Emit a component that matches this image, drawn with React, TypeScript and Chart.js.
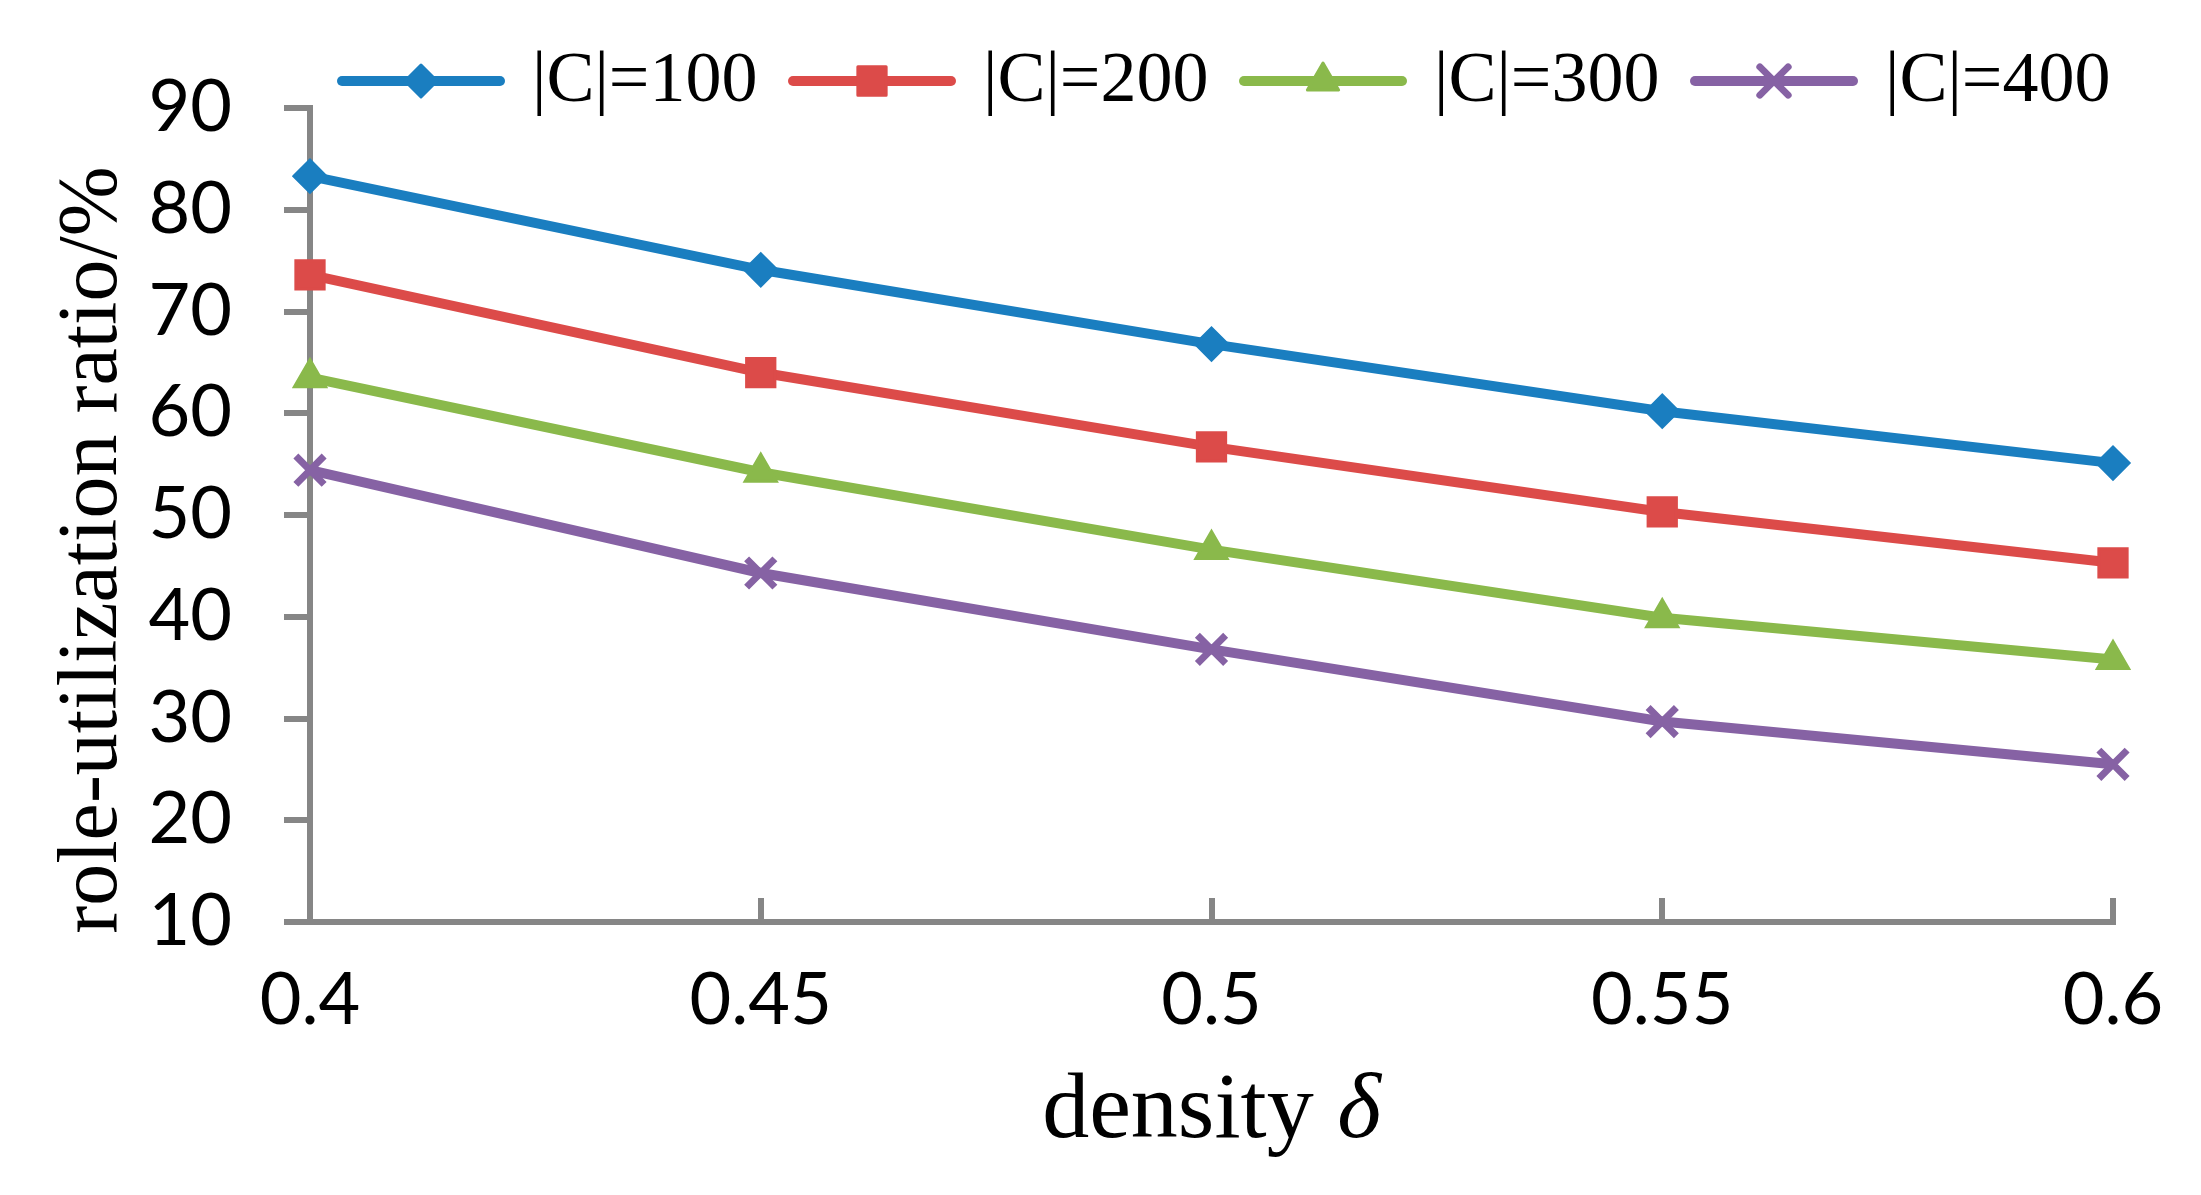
import { useEffect, useRef } from "react";
import { Chart, ChartConfiguration, Plugin, registerables } from "chart.js";
import { drawPoint } from "chart.js/helpers";

Chart.register(...registerables);

// data
const densities = ["0.4", "0.45", "0.5", "0.55", "0.6"];
const c100 = [83.3, 74.1, 66.8, 60.2, 55.1];
const c200 = [73.6, 64.0, 56.7, 50.3, 45.3];
const c300 = [63.5, 54.2, 46.6, 39.9, 35.8];
const c400 = [54.4, 44.3, 36.8, 29.7, 25.5];
const seriesNames = ["|C|=100", "|C|=200", "|C|=300", "|C|=400"];
const yMin = 10;
const yMax = 90;
const yStep = 10;
const xTitleText = "density ";
const xTitleSymbol = "δ";
const yTitleText = "role-utilization ratio/%";

const colors = ["#1A7EC0", "#DC4B49", "#8AB94B", "#8662A4"];
const markers = ["rectRot", "rect", "triangle", "crossRot"];
const markerSizes = [16, 20, 18, 20];
const axisGray = "#868686";
const serif = '"Liberation Serif", "Times New Roman", serif';
const sans = 'Lato, "Noto Sans", sans-serif';

// legend: line sample with marker in the middle, then the label
const lineLegend: Plugin<"line"> = {
  id: "lineLegend",
  afterDraw(chart) {
    const ctx = chart.ctx;
    ctx.save();
    let x = 337;
    const y = 81;
    chart.data.datasets.forEach((ds: any) => {
      ctx.strokeStyle = ds.borderColor;
      ctx.lineWidth = ds.borderWidth;
      ctx.lineCap = "round";
      ctx.beginPath();
      ctx.moveTo(x + 5, y);
      ctx.lineTo(x + 163, y);
      ctx.stroke();
      ctx.fillStyle = ds.pointBackgroundColor;
      ctx.strokeStyle = ds.pointBorderColor;
      ctx.lineWidth = ds.pointBorderWidth;
      ctx.lineJoin = "round";
      drawPoint(
        ctx,
        {
          pointStyle: ds.pointStyle,
          radius: ds.pointRadius,
          rotation: 0,
          borderWidth: ds.pointBorderWidth,
        } as any,
        x + 84,
        y
      );
      ctx.font = `72px ${serif}`;
      ctx.fillStyle = "#000";
      ctx.textAlign = "left";
      ctx.textBaseline = "alphabetic";
      ctx.fillText(ds.label, x + 195, 101);
      x += 451;
    });
    ctx.restore();
  },
};

// axis titles (x has an italic delta, y sits a bit below the plot centre)
const axisTitles: Plugin<"line"> = {
  id: "axisTitles",
  afterDraw(chart) {
    const { ctx, chartArea } = chart;
    ctx.save();
    ctx.fillStyle = "#000";
    ctx.textBaseline = "alphabetic";

    const cx = (chartArea.left + chartArea.right) / 2;
    ctx.font = `94px ${serif}`;
    const w1 = ctx.measureText(xTitleText).width;
    ctx.font = `italic 94px ${serif}`;
    const w2 = ctx.measureText(xTitleSymbol).width;
    const x = cx - (w1 + w2) / 2;
    const y = chartArea.bottom + 215;
    ctx.textAlign = "left";
    ctx.font = `94px ${serif}`;
    ctx.fillText(xTitleText, x, y);
    ctx.font = `italic 94px ${serif}`;
    ctx.fillText(xTitleSymbol, x + w1, y);

    const cy = (chartArea.top + chartArea.bottom) / 2 + 35;
    ctx.translate(116, cy);
    ctx.rotate(-Math.PI / 2);
    ctx.textAlign = "center";
    ctx.font = `84px ${serif}`;
    ctx.fillText(yTitleText, 0, 0);
    ctx.restore();
  },
};

export default function App() {
  const canvasRef = useRef<HTMLCanvasElement | null>(null);
  const chartRef = useRef<Chart | null>(null);

  useEffect(() => {
    if (!canvasRef.current) return;
    const ctx = canvasRef.current.getContext("2d");
    if (!ctx) return;
    if (chartRef.current) chartRef.current.destroy();

    const series = [c100, c200, c300, c400];
    const config: ChartConfiguration<"line"> = {
      type: "line",
      data: {
        labels: densities,
        datasets: series.map((values, i) => ({
          label: seriesNames[i],
          data: values,
          borderColor: colors[i],
          backgroundColor: colors[i],
          borderWidth: 10,
          tension: 0,
          fill: false,
          clip: false as any,
          pointStyle: markers[i] as any,
          pointRadius: markerSizes[i],
          pointHoverRadius: markerSizes[i],
          pointBackgroundColor: colors[i],
          pointBorderColor: colors[i],
          pointBorderWidth: i === 3 ? 7 : 3,
        })),
      },
      options: {
        animation: false,
        responsive: true,
        maintainAspectRatio: false,
        devicePixelRatio: 1,
        layout: { padding: { top: 108, right: 88, left: 0, bottom: 0 } },
        plugins: {
          legend: { display: false },
          tooltip: { enabled: false },
        },
        scales: {
          x: {
            type: "category",
            offset: false,
            ticks: {
              color: "#000",
              padding: 60,
              maxRotation: 0,
              autoSkip: false,
              font: { family: sans, size: 72 },
            },
            grid: {
              drawOnChartArea: false,
              drawTicks: true,
              tickLength: -24,
              color: axisGray,
              lineWidth: 6,
            },
            border: { color: axisGray, width: 6 },
            afterFit: (s: any) => {
              s.height = 273;
              s.paddingLeft = 0;
              s.paddingRight = 0;
            },
          },
          y: {
            min: yMin,
            max: yMax,
            ticks: {
              stepSize: yStep,
              color: "#000",
              padding: 52,
              font: { family: sans, size: 72 },
            },
            grid: {
              drawOnChartArea: false,
              drawTicks: true,
              tickLength: 26,
              color: axisGray,
              lineWidth: 6,
            },
            border: { color: axisGray, width: 6 },
            afterFit: (s: any) => {
              s.width = 310;
              s.paddingTop = 0;
              s.paddingBottom = 0;
            },
          },
        },
      },
      plugins: [lineLegend, axisTitles],
    };

    chartRef.current = new Chart(ctx, config);
    return () => {
      if (chartRef.current) {
        chartRef.current.destroy();
        chartRef.current = null;
      }
    };
  }, []);

  return (
    <div
      style={{
        position: "absolute",
        left: 0,
        top: 0,
        width: 2201,
        height: 1195,
        background: "#fff",
      }}
    >
      <canvas ref={canvasRef}></canvas>
    </div>
  );
}
